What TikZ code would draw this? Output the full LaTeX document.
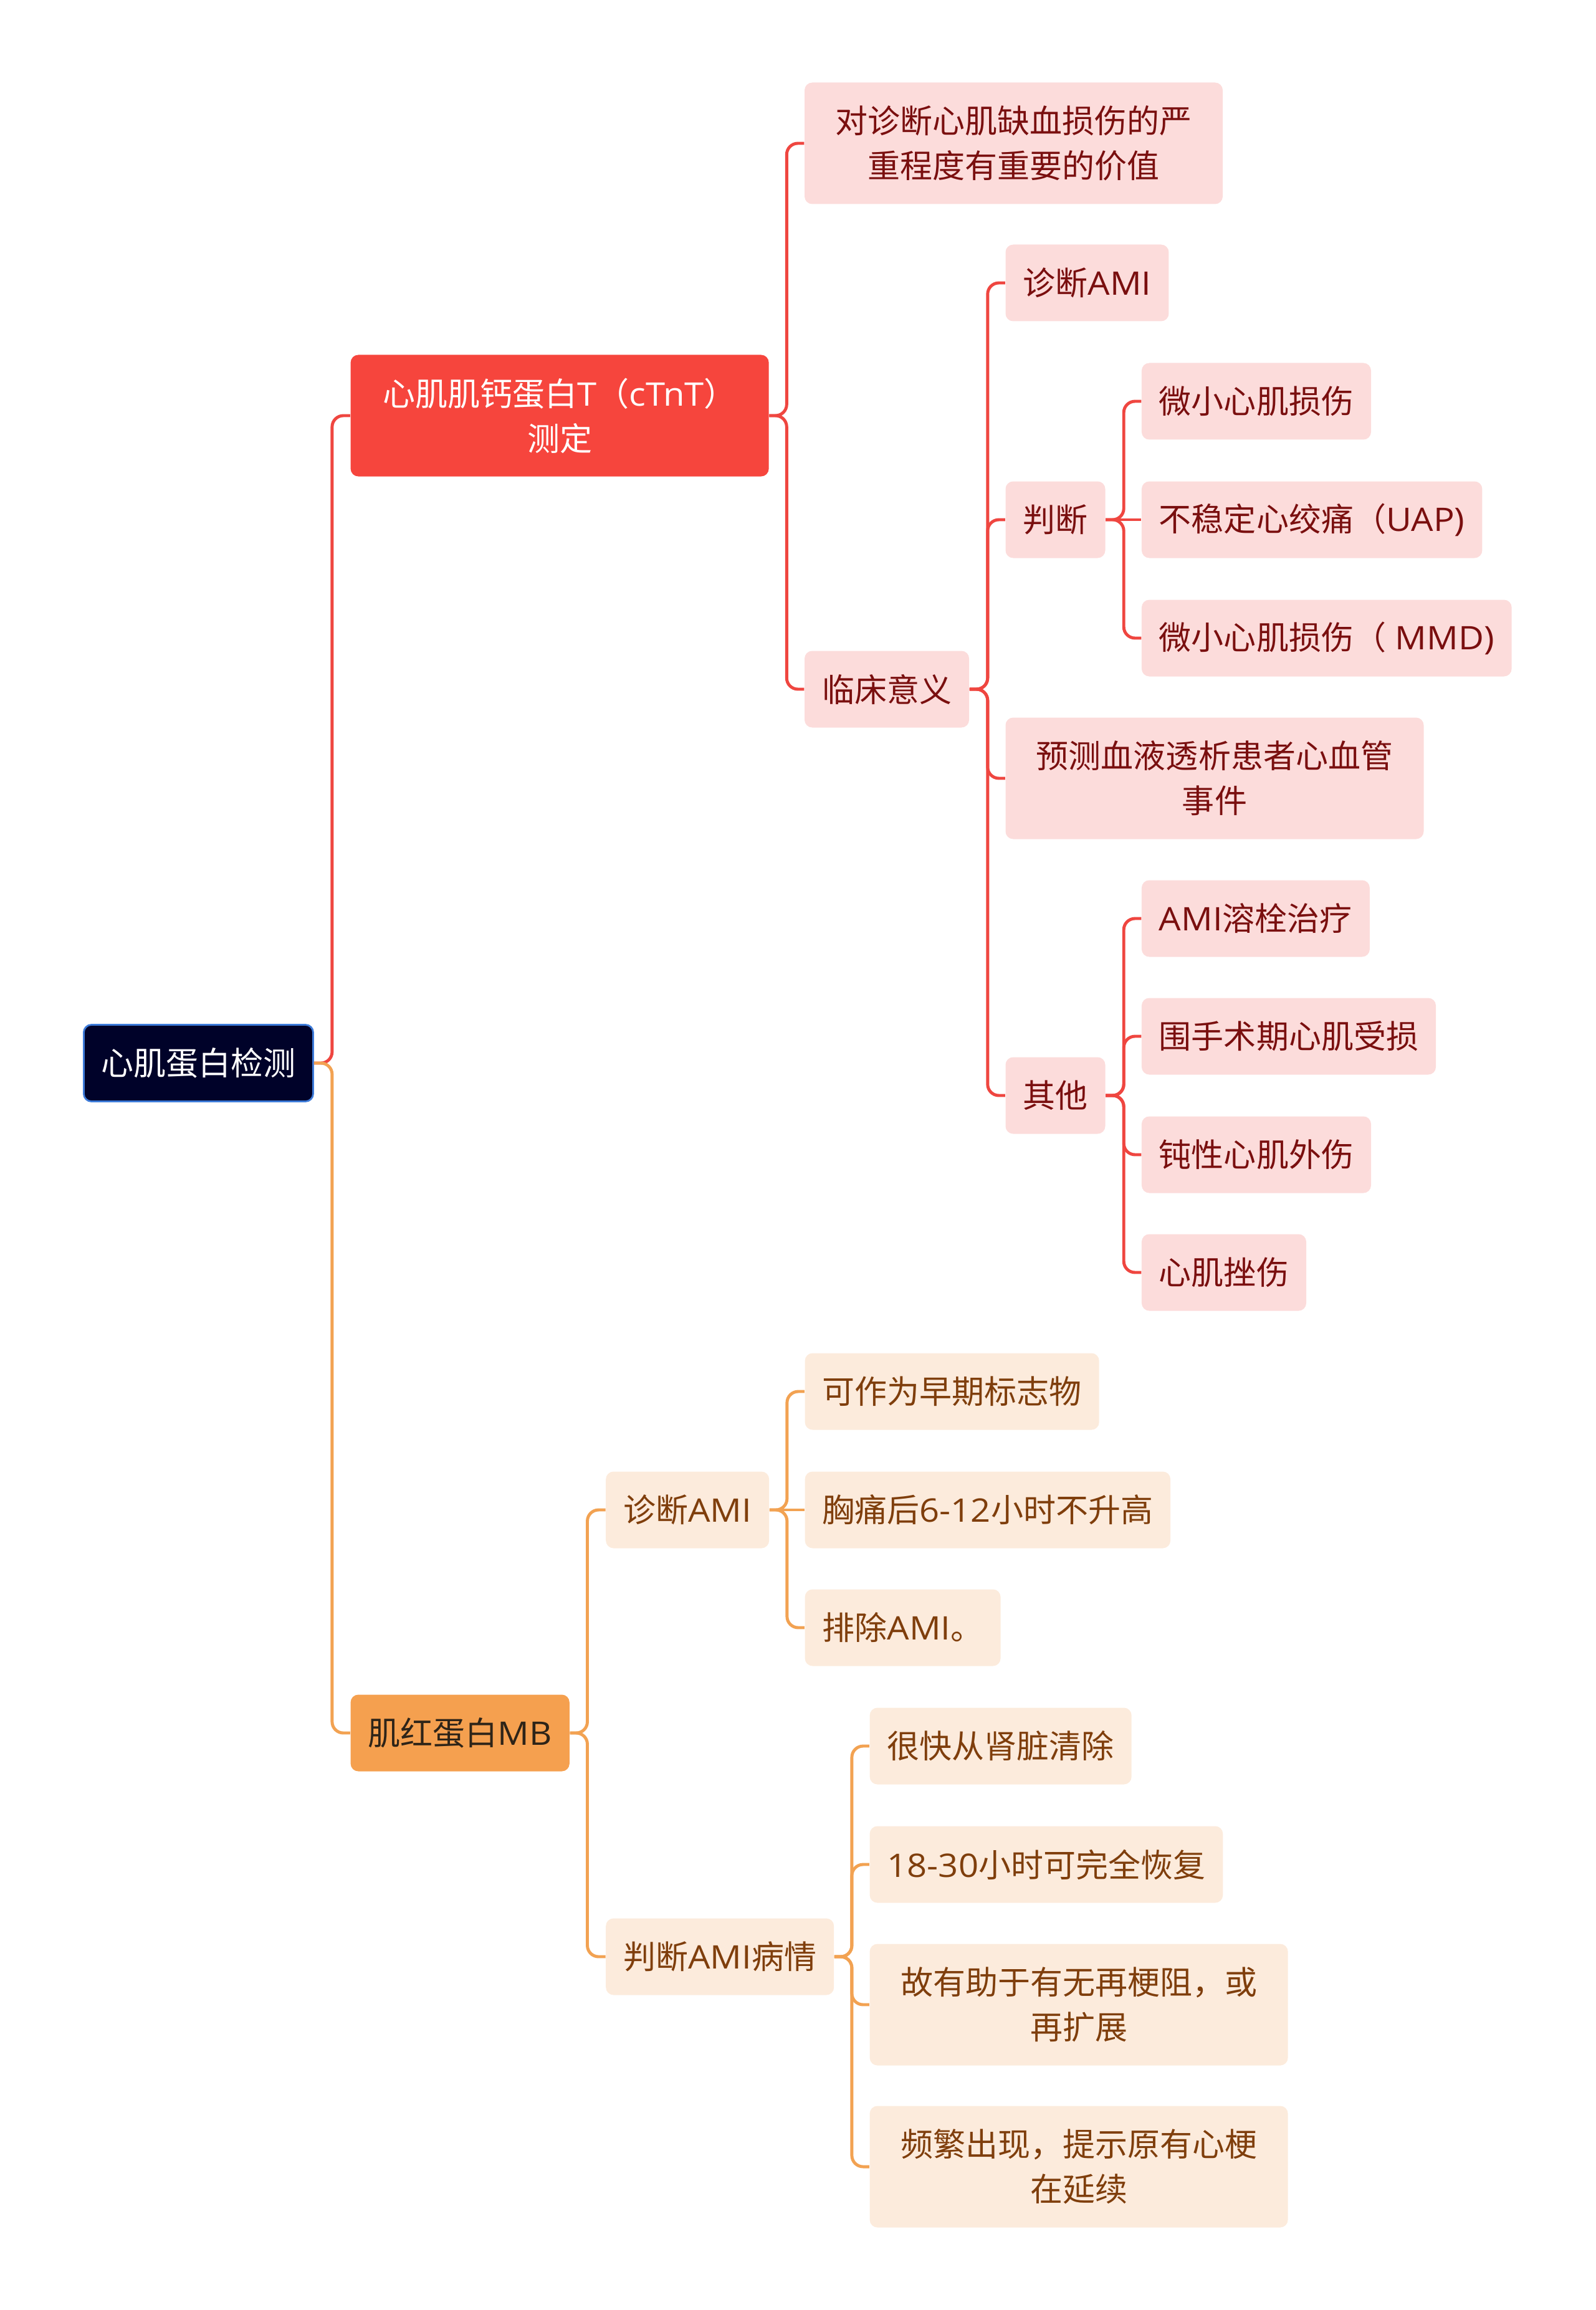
\documentclass[tikz,border=0pt]{standalone}
\usepackage{fontspec}
\setmainfont{Noto Sans CJK SC}
\newfontfamily\engfont[FakeStretch=1.08]{Open Sans}
\newcommand{\eng}[1]{{\engfont #1}}
\usepackage{xcolor}
\usetikzlibrary{positioning}
\definecolor{rootfill}{HTML}{000229}
\definecolor{rootline}{HTML}{3D7BD9}
\definecolor{ctntred}{HTML}{F6453D}
\definecolor{redline}{HTML}{EF4640}
\definecolor{redsoft}{HTML}{FCDCDB}
\definecolor{redtext}{HTML}{7A0F0F}
\definecolor{mborange}{HTML}{F5A04F}
\definecolor{mbtext}{HTML}{2E2418}
\definecolor{orangeline}{HTML}{F2A252}
\definecolor{orangesoft}{HTML}{FCEBDC}
\definecolor{orangetext}{HTML}{7F3E0C}
\tikzset{
  topic/.style={rectangle, rounded corners=3.5pt, minimum height=1.23cm,
    inner xsep=0.28cm, inner ysep=0pt, align=center,
    font=\fontsize{14.8pt}{20.5pt}\selectfont},
  rootnode/.style={topic, fill=rootfill, draw=rootline, line width=0.8pt, text=white},
  redmain/.style={topic, fill=ctntred, text=white},
  redleaf/.style={topic, fill=redsoft, text=redtext},
  orangemain/.style={topic, fill=mborange, text=mbtext},
  orangeleaf/.style={topic, fill=orangesoft, text=orangetext},
  twoline/.style={minimum height=1.95cm, text width=6.15cm},
  redlink/.style={draw=redline, line width=1.4pt, rounded corners=0.18cm},
  orangelink/.style={draw=orangeline, line width=1.4pt, rounded corners=0.18cm},
}

\begin{document}
\begin{tikzpicture}
\useasboundingbox (0,0) rectangle (25.6,-37.07);

\node[rootnode, anchor=west] (root) at (1.33,-17.06) {心肌蛋白检测};
\node[redmain, twoline, right=0.58cm of root, yshift=10.39cm] (ctnt) {心肌肌钙蛋白\eng{T}（\eng{cTnT}）\\测定};
\node[orangemain, right=0.58cm of root, yshift=-10.75cm] (mb) {肌红蛋白\eng{MB}};

% troponin branch
\node[redleaf, twoline, right=0.56cm of ctnt, yshift=4.37cm] (value) {对诊断心肌缺血损伤的严\\重程度有重要的价值};
\node[redleaf, right=0.56cm of ctnt, yshift=-4.39cm] (clinic) {临床意义};
\node[redleaf, right=0.57cm of clinic, yshift=6.52cm] (diag) {诊断\eng{AMI}};
\node[redleaf, right=0.57cm of clinic, yshift=2.72cm] (judge) {判断};
\node[redleaf, twoline, right=0.57cm of clinic, yshift=-1.43cm] (dialysis) {预测血液透析患者心血管\\事件};
\node[redleaf, right=0.57cm of clinic, yshift=-6.52cm] (other) {其他};
\node[redleaf, right=0.57cm of judge, yshift=1.90cm] (minor) {微小心肌损伤};
\node[redleaf, right=0.57cm of judge] (uap) {不稳定心绞痛（\eng{UAP)}};
\node[redleaf, right=0.57cm of judge, yshift=-1.90cm] (mmd) {微小心肌损伤（\eng{ MMD)}};
\node[redleaf, right=0.57cm of other, yshift=2.84cm] (lysis) {\eng{AMI}溶栓治疗};
\node[redleaf, right=0.57cm of other, yshift=0.95cm] (periop) {围手术期心肌受损};
\node[redleaf, right=0.57cm of other, yshift=-0.95cm] (blunt) {钝性心肌外伤};
\node[redleaf, right=0.57cm of other, yshift=-2.84cm] (contusion) {心肌挫伤};

% myoglobin branch
\node[orangeleaf, right=0.57cm of mb, yshift=3.58cm] (diagmb) {诊断\eng{AMI}};
\node[orangeleaf, right=0.57cm of mb, yshift=-3.59cm] (course) {判断\eng{AMI}病情};
\node[orangeleaf, right=0.56cm of diagmb, yshift=1.90cm] (early) {可作为早期标志物};
\node[orangeleaf, right=0.56cm of diagmb] (norise) {胸痛后\eng{6-12}小时不升高};
\node[orangeleaf, right=0.56cm of diagmb, yshift=-1.89cm] (exclude) {排除\eng{AMI}。};
\node[orangeleaf, right=0.56cm of course, yshift=3.38cm] (clear) {很快从肾脏清除};
\node[orangeleaf, right=0.56cm of course, yshift=1.48cm] (recover) {\eng{18-30}小时可完全恢复};
\node[orangeleaf, twoline, right=0.56cm of course, yshift=-0.77cm] (reinfarct) {故有助于有无再梗阻，或\\再扩展};
\node[orangeleaf, twoline, right=0.56cm of course, yshift=-3.37cm] (ongoing) {频繁出现，提示原有心梗\\在延续};

\draw[redlink] (root.east) -- ++(0.29,0) |- (ctnt.west);
\draw[orangelink] (root.east) -- ++(0.29,0) |- (mb.west);

\foreach \kid in {value,clinic}
  \draw[redlink] (ctnt.east) -- ++(0.28,0) |- (\kid.west);
\foreach \kid in {diag,judge,dialysis,other}
  \draw[redlink] (clinic.east) -- ++(0.29,0) |- (\kid.west);
\foreach \kid in {minor,mmd}
  \draw[redlink] (judge.east) -- ++(0.29,0) |- (\kid.west);
\draw[redlink] (judge.east) -- (uap.west);
\foreach \kid in {lysis,periop,blunt,contusion}
  \draw[redlink] (other.east) -- ++(0.29,0) |- (\kid.west);

\foreach \kid in {diagmb,course}
  \draw[orangelink] (mb.east) -- ++(0.28,0) |- (\kid.west);
\foreach \kid in {early,exclude}
  \draw[orangelink] (diagmb.east) -- ++(0.28,0) |- (\kid.west);
\draw[orangelink] (diagmb.east) -- (norise.west);
\foreach \kid in {clear,recover,reinfarct,ongoing}
  \draw[orangelink] (course.east) -- ++(0.28,0) |- (\kid.west);
\end{tikzpicture}
\end{document}
